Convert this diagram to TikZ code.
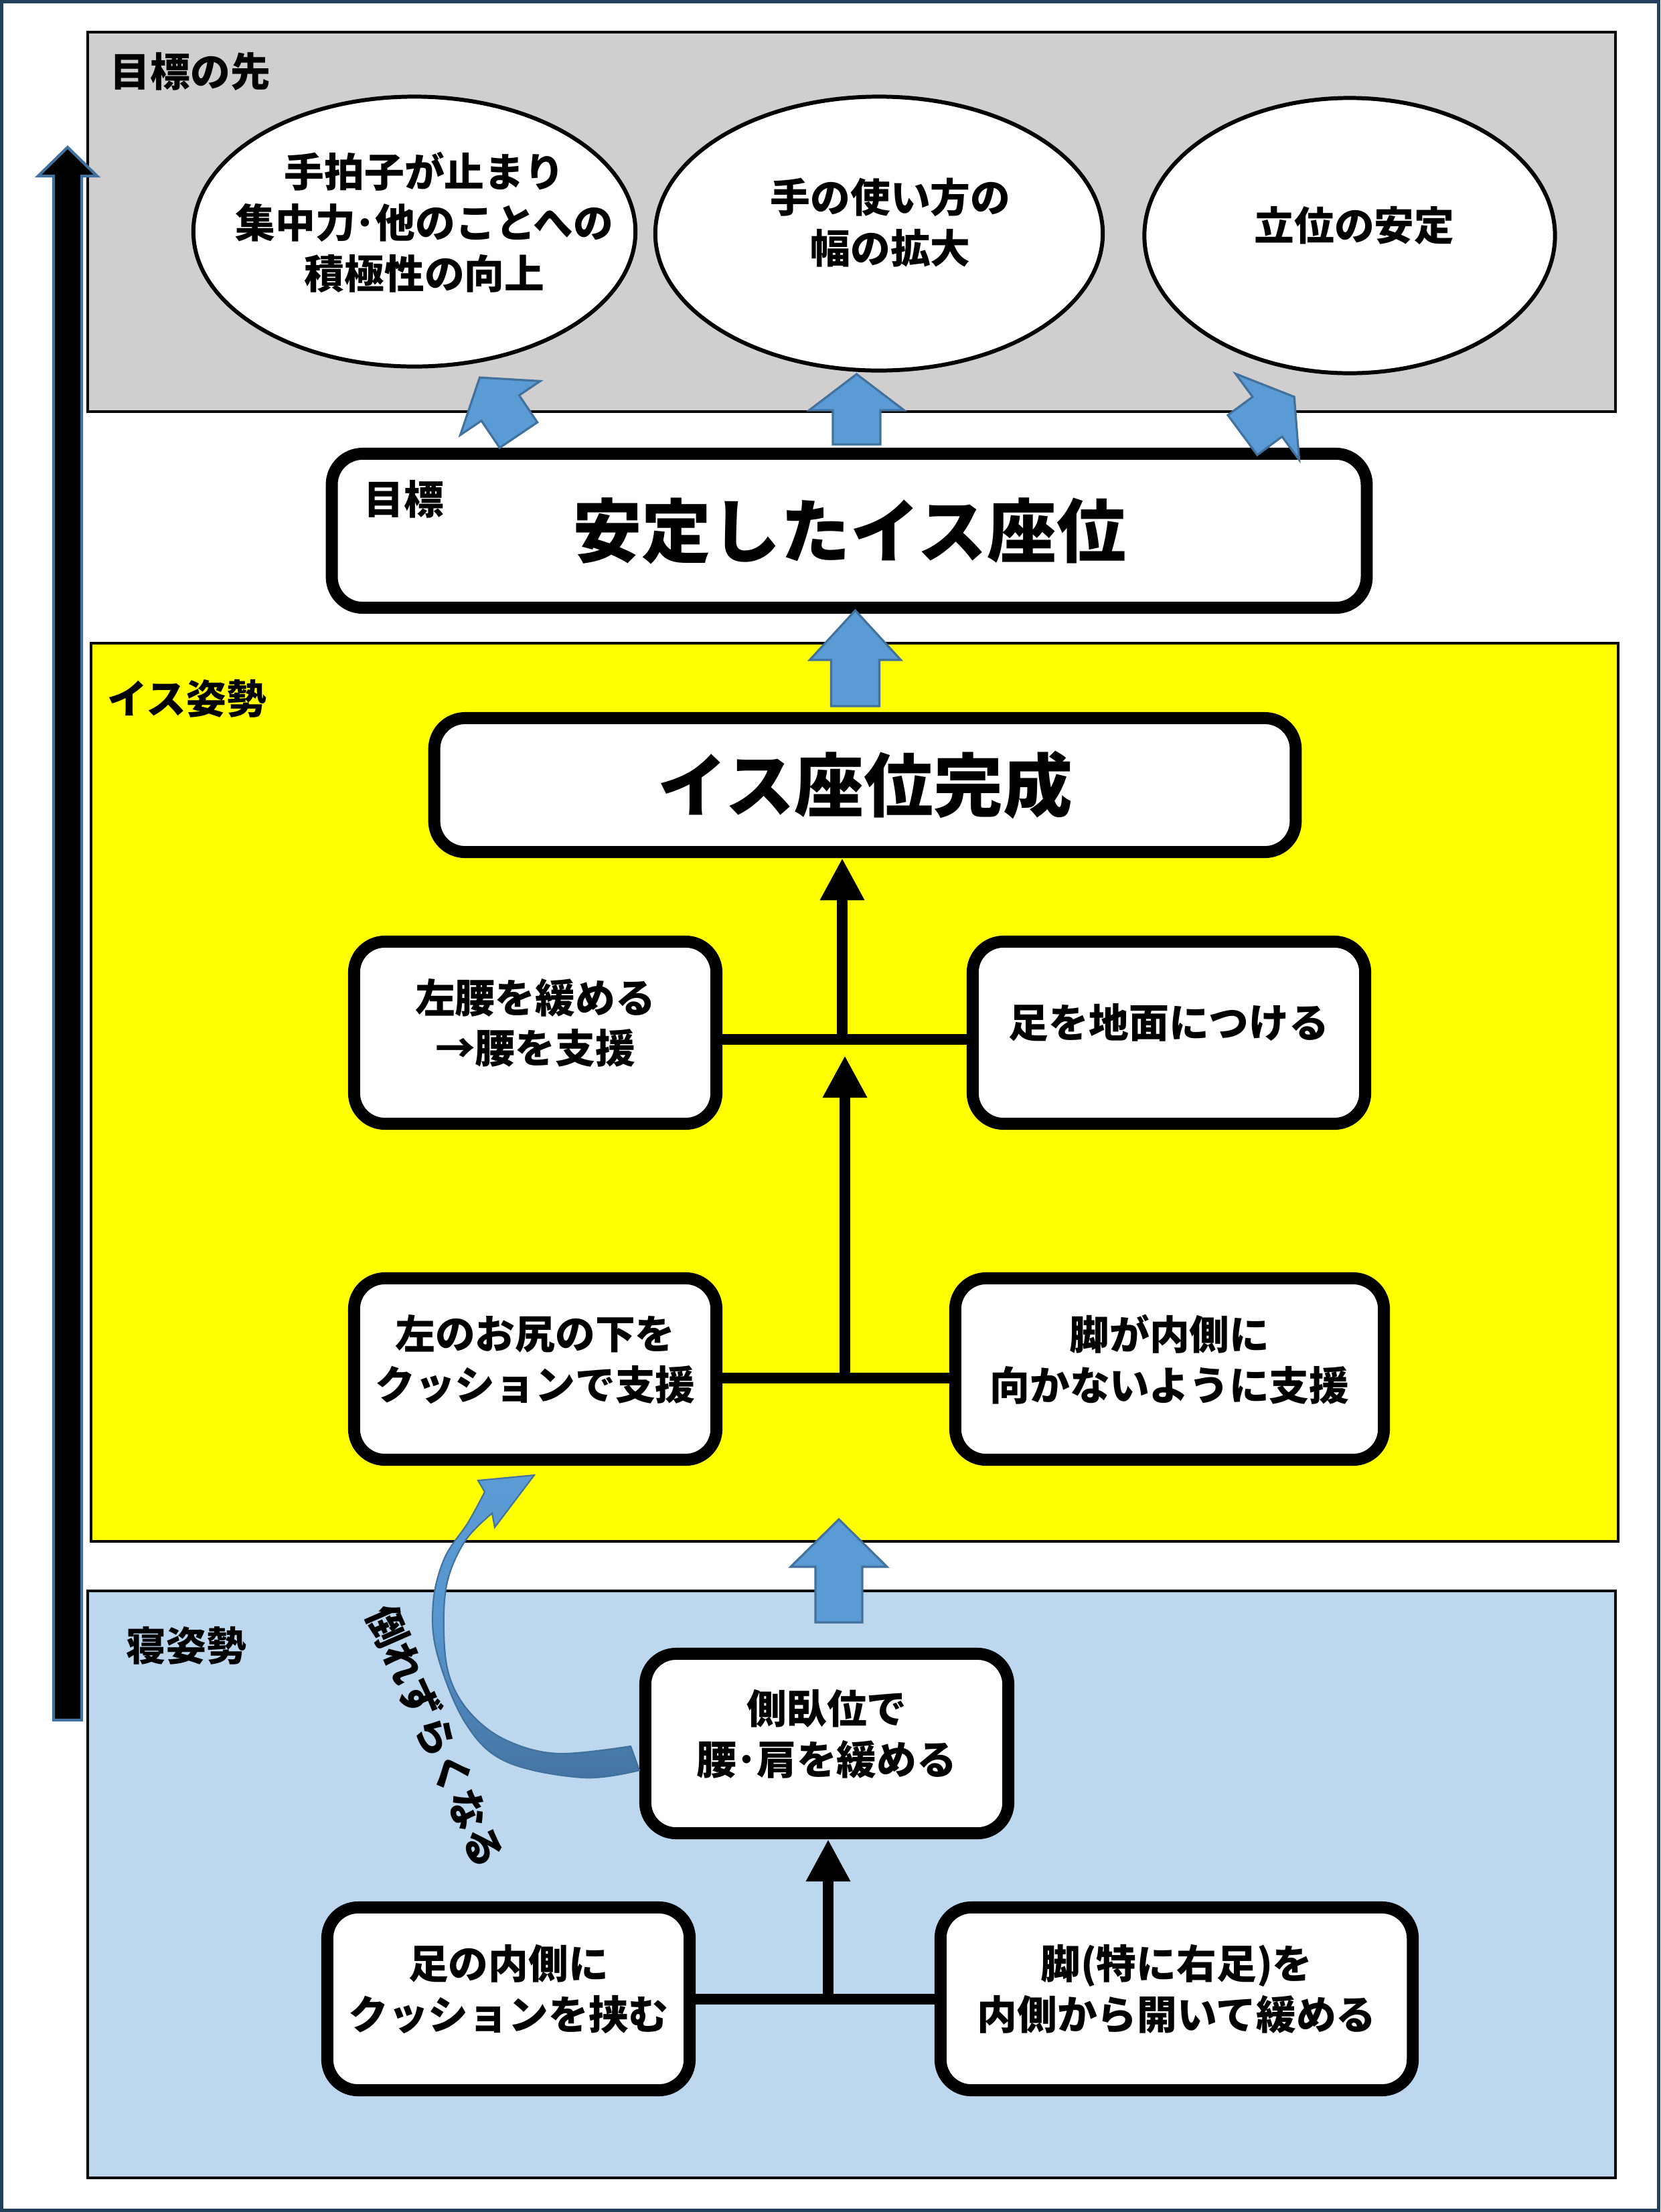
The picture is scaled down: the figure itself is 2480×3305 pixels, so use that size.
\documentclass[tikz,border=0pt]{standalone}
\usepackage{fontspec}
\setmainfont{Noto Sans CJK JP}
\usetikzlibrary{shapes.geometric,arrows.meta,calc}

\definecolor{framenavy}{HTML}{223F5B}
\definecolor{panelgray}{HTML}{D0CECE}
\definecolor{panelblue}{HTML}{BDD7EE}
\definecolor{panelyellow}{RGB}{255,255,0}
\definecolor{arrfill}{HTML}{5B9BD5}
\definecolor{arrline}{HTML}{41719C}
\definecolor{arrdark}{HTML}{4474A2}

\tikzset{
  txt/.style={font=\fontsize{17}{21.6}\selectfont\bfseries, align=center},
  big/.style={font=\fontsize{29.5}{35}\selectfont\bfseries, align=center},
  lbl/.style={font=\fontsize{17}{21.6}\selectfont\bfseries, inner sep=0pt, anchor=west},
  rbox/.style={draw, line width=5.1pt, fill=white, rounded corners=0.46cm,
    inner sep=0pt, txt},
  raised/.style={text depth=10pt},
  oval/.style={ellipse, draw, line width=1.7pt, fill=white, inner sep=0pt},
  panel/.style={draw, line width=1.3pt},
  conn/.style={line width=4.6pt},
  tip/.style={-{Triangle[width=0.62cm,length=0.63cm]}},
  barrow/.style={fill=arrfill, draw=arrline, line width=0.9pt, line join=miter},
  pics/blockup/.style n args={4}{code={%
    % #1 half shaft width, #2 half head width, #3 shaft length, #4 head length
    \draw[barrow] (-#1,0) -- (-#1,-#3) -- (-#2,-#3) -- (0,-#3-#4)
      -- (#2,-#3) -- (#1,-#3) -- (#1,0) -- cycle;
  }}
}

\begin{document}
\begin{tikzpicture}[x=0.01cm,y=-0.01cm]
\useasboundingbox (0,0) rectangle (2480,3305);
\draw[framenavy, line width=1.45pt] (2.5,2.5) rectangle (2477.5,3302.5);

% three stage panels
\draw[panel, fill=panelgray] (131,48) rectangle (2413,615);
\draw[panel, fill=panelyellow] (136,961) rectangle (2417,2303);
\draw[panel, fill=panelblue] (131,2377) rectangle (2413,3254);

\node[lbl] (secgoal) at (164,107) {目標の先};
\node[lbl] (secchair) at (160,1044) {イス姿勢};
\node[lbl] (secbed) at (188,2459) {寝姿勢};

% long progress arrow on the left
\draw[fill=black, draw=arrline, line width=1.2pt]
  (80,2570) -- (80,263) -- (57,263) -- (101,220) -- (145,263)
  -- (122,263) -- (122,2570) -- cycle;

% outcomes beyond the goal
\node[oval, minimum width=6.60cm, minimum height=4.03cm] (e1) at (619,346) {};
\node[oval, minimum width=6.68cm, minimum height=4.09cm] (e2) at (1313,349) {};
\node[oval, minimum width=6.13cm, minimum height=4.11cm] (e3) at (2016,352) {};
\node[txt] (e1t) at (634,332) {手拍子が止まり\\集中力･他のことへの\\積極性の向上};
\node[txt] (e2t) at (1330,333) {手の使い方の\\幅の拡大};
\node[txt] (e3t) at (2023,337) {立位の安定};

% goal
\node[rbox, big, minimum width=15.45cm, minimum height=2.30cm] (goal) at (1268.5,793)
  {安定したイス座位};
\node[lbl] (goallbl) at (543,746) {目標};

% block arrows from the goal to the outcomes
\pic[rotate=34] at (774.5,650) {blockup={34}{72}{48.7}{55}};
\pic at (1279.5,664) {blockup={35.5}{71}{51}{54}};
\pic[rotate=-53.5] at (1856,650) {blockup={37}{80}{46}{50}};

% chair posture stage
\pic at (1277.5,1055) {blockup={36}{68}{69}{74}};
\node[rbox, big, minimum width=12.86cm, minimum height=2.00cm] (done) at (1292,1173)
  {イス座位完成};
\node[rbox, raised, minimum width=5.41cm, minimum height=2.72cm] (hip) at (799.5,1543)
  {左腰を緩める\\→腰を支援};
\node[rbox, raised, minimum width=5.86cm, minimum height=2.72cm] (foot) at (1746,1543)
  {足を地面につける};
\node[rbox, raised, minimum width=5.41cm, minimum height=2.71cm] (cush) at (799.5,2045.5)
  {左のお尻の下を\\クッションで支援};
\node[rbox, raised, minimum width=6.40cm, minimum height=2.71cm] (leg) at (1747,2045.5)
  {脚が内側に\\向かないように支援};

\coordinate (j1) at (1258,1553);
\draw[conn] (hip.east |- j1) -- (foot.west |- j1);
\draw[conn, tip] (j1) -- (j1 |- done.south);
\coordinate (j2) at (1262,2059);
\coordinate (j2top) at (1262,1577);
\draw[conn] (cush.east |- j2) -- (leg.west |- j2);
\draw[conn, tip] (j2) -- (j2top);

% lying posture stage
\pic at (1253,2424) {blockup={35}{72}{83}{71}};
\node[rbox, raised, minimum width=5.42cm, minimum height=2.68cm] (side) at (1235,2605)
  {側臥位で\\腰･肩を緩める};
\node[rbox, raised, minimum width=5.41cm, minimum height=2.73cm] (inner) at (759.5,2986.5)
  {足の内側に\\クッションを挟む};
\node[rbox, raised, minimum width=7.05cm, minimum height=2.73cm] (open) at (1757.5,2986.5)
  {脚(特に右足)を\\内側から開いて緩める};
\coordinate (j3) at (1237,2987);
\draw[conn] (inner.east |- j3) -- (open.west |- j3);
\draw[conn, tip] (j3) -- (j3 |- side.south);

% curved arrow from side-lying to the cushion step
\draw[draw=arrline, line width=0.6pt, top color=arrfill, bottom color=arrdark,
      middle color=arrfill!85!arrdark]
  plot[smooth, tension=0.6] coordinates {(955,2645) (871,2656) (756,2632) (695,2574)
    (653,2471) (647,2395) (664,2328) (699,2275) (724,2229)}
  -- (714,2212) -- (798,2204) -- (739,2282) -- (735,2261)
  -- plot[smooth, tension=0.6] coordinates {(735,2261) (695,2302) (668,2364) (663,2440)
    (672,2507) (703,2560) (756,2600) (833,2620) (942,2609)}
  -- cycle;
\node[txt, rotate=-66.4] (fall) at (651,2594) {倒れずらくなる};
\end{tikzpicture}
\end{document}
